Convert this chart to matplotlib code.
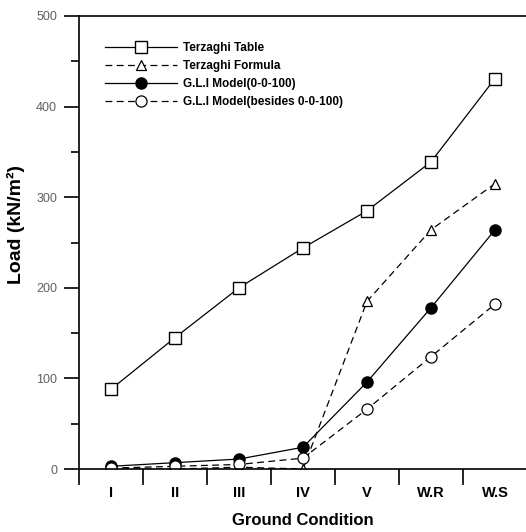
"""Load vs ground condition line chart."""

import matplotlib

matplotlib.use("Agg")
import matplotlib.pyplot as plt
from matplotlib.ticker import FixedLocator, NullFormatter

plt.rcParams["font.family"] = ["Liberation Sans", "DejaVu Sans"]

conditions = ["I", "II", "III", "IV", "V", "W.R", "W.S"]
terzaghi_table = [88, 145, 200, 244, 285, 339, 431]
terzaghi_formula = [0, 0, 2, 0, 185, 264, 315]
gli_model = [3, 7, 11, 24, 96, 178, 264]
gli_besides = [1, 3, 5, 12, 66, 124, 182]

_DASH = (0, (5.5, 3.5))

fig = plt.figure(figsize=(5.26, 5.32), dpi=100)
ax = fig.add_axes([79 / 526, 63 / 532, 448 / 526, 453 / 532])

x = list(range(len(conditions)))
ax.plot(x, terzaghi_table, color="black", lw=0.9, marker="s", ms=8,
        mfc="white", mec="black", mew=1.0, label="Terzaghi Table")
ax.plot(x, terzaghi_formula, color="black", lw=0.9, linestyle=_DASH, marker="^",
        ms=7.5, mfc="white", mec="black", mew=0.9, label="Terzaghi Formula")
ax.plot(x, gli_model, color="black", lw=0.9, marker="o", ms=8,
        mfc="black", mec="black", label="G.L.I Model(0-0-100)")
ax.plot(x, gli_besides, color="black", lw=0.9, linestyle=_DASH, marker="o",
        ms=8, mfc="white", mec="black", mew=0.9, label="G.L.I Model(besides 0-0-100)")

ax.set_xlim(-0.5, 6.5)
ax.set_ylim(0, 500)

for side in ("top", "left", "bottom"):
    ax.spines[side].set_linewidth(1.2)
ax.spines["right"].set_visible(False)

ax.xaxis.set_major_locator(FixedLocator([i - 0.5 for i in range(8)]))
ax.xaxis.set_major_formatter(NullFormatter())
ax.xaxis.set_minor_locator(FixedLocator(x))
ax.set_xticklabels(conditions, minor=True, fontsize=10.5, fontweight="bold")
ax.tick_params(axis="x", which="major", direction="out", length=11.5, width=1.2)
ax.tick_params(axis="x", which="minor", length=0, pad=12)

ax.yaxis.set_major_locator(FixedLocator(range(0, 501, 100)))
ax.yaxis.set_minor_locator(FixedLocator(range(50, 500, 100)))
ax.tick_params(axis="y", which="major", direction="out", length=10.8, width=1.2,
               labelsize=9, labelcolor="#606060", pad=5)
ax.tick_params(axis="y", which="minor", direction="out", length=5.8, width=1.2)

ax.set_xlabel("Ground Condition", fontsize=12, fontweight="bold")
ax.xaxis.set_label_coords(0.5, -0.098)
ax.set_ylabel("Load (kN/m²)", fontsize=14, fontweight="bold")
ax.yaxis.set_label_coords(-0.12, 0.54)

ax.legend(loc="upper left", bbox_to_anchor=(0.04, 0.96), frameon=False,
          prop={"size": 8.5, "weight": "bold"}, handlelength=6.1,
          handletextpad=0.45, labelspacing=0.5, borderpad=0.2)

fig.savefig("out.png", dpi=100)
